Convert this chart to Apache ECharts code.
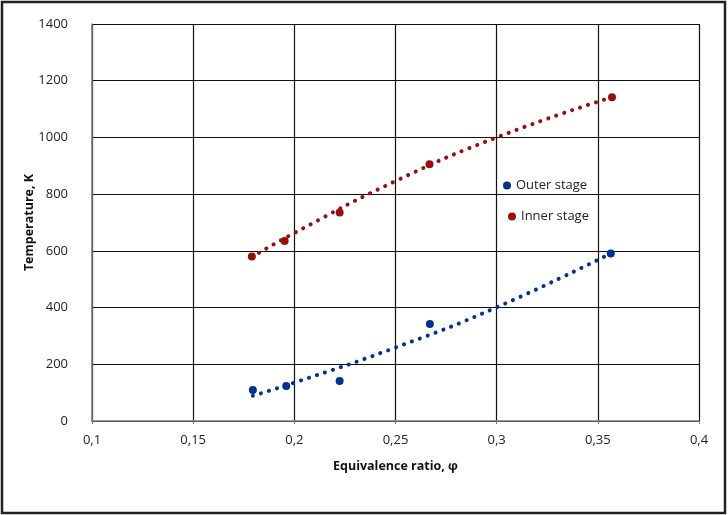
<!DOCTYPE html>
<html><head><meta charset="utf-8">
<script src="https://cdn.jsdelivr.net/npm/echarts@6/dist/echarts.min.js"></script>
<style>html,body{margin:0;padding:0;background:#fff}#c{width:728px;height:515px}</style>
</head><body><div id="c"></div>
<script>
// Measured points
const outerStage = [[0.1795, 109], [0.196, 123], [0.2224, 141], [0.267, 342], [0.3564, 591]];
const innerStage = [[0.179, 580], [0.1952, 635], [0.2224, 735], [0.2668, 905], [0.357, 1142]];
// Trendline values
const outerTrend = [[0.1795, 89], [0.2, 135], [0.25, 259], [0.3, 401], [0.3564, 591]];
const innerTrend = [[0.179, 578], [0.2, 663], [0.25, 846], [0.3, 1000], [0.357, 1142]];
const xTicks = [0.1, 0.15, 0.2, 0.25, 0.3, 0.35, 0.4];
const yTicks = [0, 200, 400, 600, 800, 1000, 1200, 1400];

const BLUE = '#00338f', RED = '#960f0f';
const FONT = "'Open Sans','Liberation Sans',sans-serif";
const chart = echarts.init(document.getElementById('c'));
chart.setOption({
  animation: false,
  textStyle: {fontFamily: FONT},
  grid: {left: 92, right: 29, top: 24, bottom: 94},
  xAxis: {
    type: 'value', min: xTicks[0], max: xTicks[xTicks.length - 1], interval: 0.05,
    name: 'Equivalence ratio, φ', nameLocation: 'middle', nameGap: 39,
    nameTextStyle: {fontFamily: FONT, fontWeight: 'bold', fontSize: 12.5, color: '#111'},
    axisLine: {lineStyle: {color: '#777', width: 1.5}},
    axisTick: {show: true, length: 3, lineStyle: {color: '#777'}},
    axisLabel: {fontSize: 13, color: '#222', margin: 13, formatter: v => String(+v.toFixed(2)).replace('.', ',')},
    splitLine: {show: true, lineStyle: {color: '#111', width: 1.2}}
  },
  yAxis: {
    type: 'value', min: yTicks[0], max: yTicks[yTicks.length - 1], interval: 200,
    name: 'Temperature, K', nameLocation: 'middle', nameGap: 56, nameRotate: 90, nameMoveOverlap: false,
    nameTextStyle: {fontFamily: FONT, fontWeight: 'bold', fontSize: 12.5, color: '#111'},
    axisLine: {show: true, lineStyle: {color: '#777', width: 1.5}},
    axisTick: {show: false},
    axisLabel: {fontSize: 13, color: '#222', margin: 24, formatter: v => String(v)},
    splitLine: {show: true, lineStyle: {color: '#111', width: 1.2}}
  },
  legend: [
    {data: ['Outer stage'], left: 498, top: 174, itemWidth: 8, itemHeight: 8, itemGap: 4,
     textStyle: {fontSize: 13, color: '#222', fontFamily: FONT}, icon: 'circle'},
    {data: ['Inner stage'], left: 503, top: 205, itemWidth: 8, itemHeight: 8,
     textStyle: {fontSize: 13, color: '#222', fontFamily: FONT}, icon: 'circle'}
  ],
  graphic: [{type: 'rect', shape: {x: 2, y: 2, width: 723, height: 511},
    style: {fill: 'none', stroke: '#222', lineWidth: 2.5}, silent: true}],
  series: [
    {name: 'Outer stage', type: 'scatter', data: outerStage, symbolSize: 8, itemStyle: {color: BLUE, opacity: 1}, z: 3},
    {name: 'Inner stage', type: 'scatter', data: innerStage, symbolSize: 8, itemStyle: {color: RED, opacity: 1}, z: 3},
    {name: 'Outer trend', type: 'line', data: outerTrend, smooth: true, symbol: 'none',
     lineStyle: {color: BLUE, width: 4, type: [0.1, 8.3], cap: 'round'}, z: 2},
    {name: 'Inner trend', type: 'line', data: innerTrend, smooth: true, symbol: 'none',
     lineStyle: {color: RED, width: 4, type: [0.1, 8.3], cap: 'round'}, z: 2}
  ]
});
</script></body></html>
